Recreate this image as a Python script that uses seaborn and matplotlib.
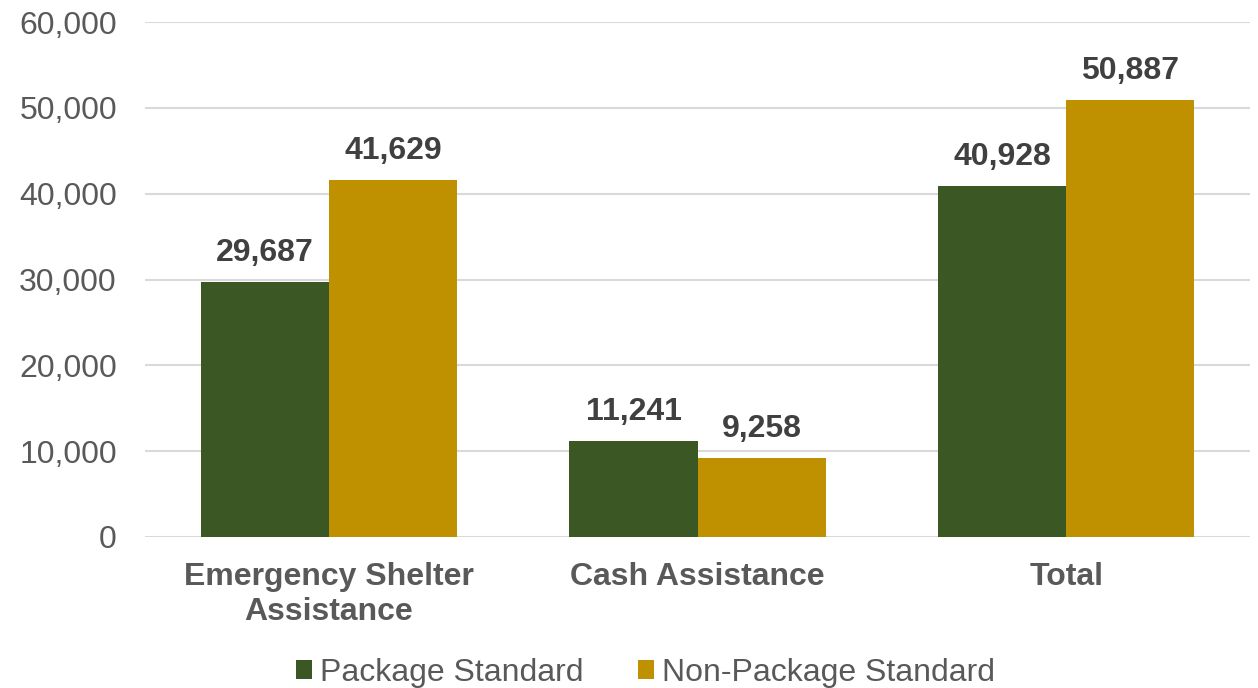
import numpy as np
import pandas as pd
import matplotlib
matplotlib.use('Agg')
import matplotlib.pyplot as plt
import seaborn as sns

categories = ['Emergency Shelter\nAssistance', 'Cash Assistance', 'Total']
series = ['Package Standard', 'Non-Package Standard']
package = [29687, 11241, 40928]
non_package = [41629, 9258, 50887]
colors = ['#3A5724', '#BF9000']

df = pd.DataFrame({
    'category': categories * 2,
    'series': [series[0]] * 3 + [series[1]] * 3,
    'value': package + non_package,
})

sns.set_style('white')
plt.rcParams['font.family'] = ['Liberation Sans', 'DejaVu Sans']
fs = 23

fig = plt.figure(figsize=(12.58, 6.88), dpi=100)
ax = fig.add_axes([0.115, 0.2195, 0.879, 0.7485])

sns.barplot(data=df, x='category', y='value', hue='series', palette=colors,
            width=0.695, ax=ax, saturation=1, linewidth=0, legend=True)

for c in ax.containers:
    ax.bar_label(c, labels=[f'{v:,.0f}' for v in c.datavalues], padding=10,
                 fontsize=fs, fontweight='bold', color='#404040')

ax.set_ylim(0, 60000)
ax.set_xlim(-0.5, 2.5)
ax.set_yticks(np.arange(0, 60001, 10000))
ax.set_yticklabels([f'{v:,}' for v in range(0, 60001, 10000)])
ax.yaxis.grid(True, color='#D9D9D9', linewidth=1.5)
ax.set_axisbelow(True)
ax.tick_params(axis='y', labelsize=fs, labelcolor='#595959', length=0, pad=20)
ax.tick_params(axis='x', labelsize=fs, labelcolor='#595959', length=0, pad=18)
for lab in ax.get_xticklabels():
    lab.set_fontweight('bold')
ax.set_xlabel('')
ax.set_ylabel('')
for s in ax.spines.values():
    s.set_visible(False)

handles, labels = ax.get_legend_handles_labels()
ax.legend(handles, labels, loc='center', bbox_to_anchor=(0.513, 0.022),
          bbox_transform=fig.transFigure, ncol=2, frameon=False, fontsize=fs,
          labelcolor='#595959', handlelength=0.5, handleheight=0.5,
          handletextpad=0.25, columnspacing=1.7)

fig.savefig('out.png', dpi=100)
